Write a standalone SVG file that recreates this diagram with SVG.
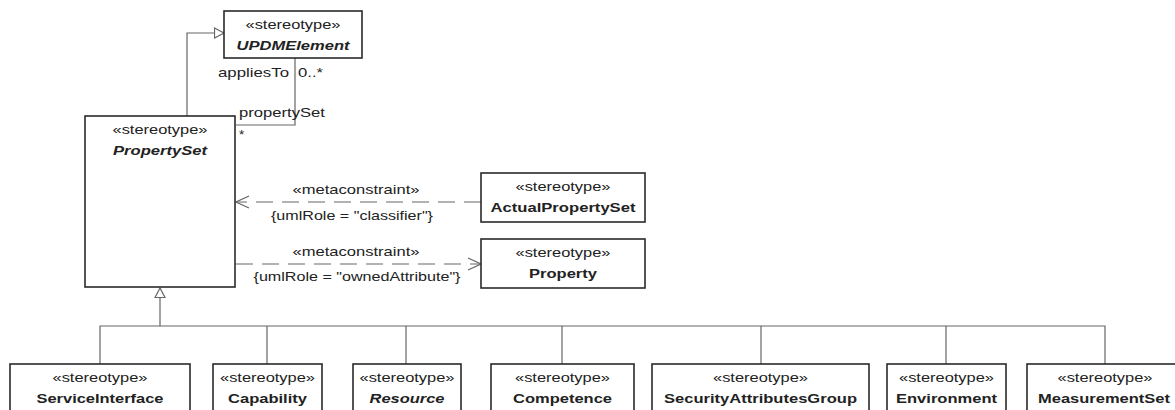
<svg xmlns="http://www.w3.org/2000/svg" width="1175" height="410" viewBox="0 0 1175 410">
<style>
.box{fill:#fff;stroke:#2a2a2a;stroke-width:1.6}
.ln{fill:none;stroke:#666;stroke-width:1.2}
.dash{stroke-dasharray:17 9}
text{font-family:"Liberation Sans",Arial,sans-serif;font-size:13.5px;fill:#222;text-anchor:middle}
.n{font-weight:bold}
.i{font-style:italic}
.s{font-size:13px}
.l{text-anchor:start}
.e{text-anchor:end}
</style>
<defs>
<marker id="open" markerWidth="15" markerHeight="14" refX="14" refY="7" orient="auto" markerUnits="userSpaceOnUse">
<path d="M1,1 L14,7 L1,13" fill="none" stroke="#666" stroke-width="1.2"/>
</marker>
<marker id="tri" markerWidth="12" markerHeight="12" refX="10.5" refY="6" orient="auto" markerUnits="userSpaceOnUse">
<path d="M1,1 L10.5,6 L1,11 Z" fill="#fff" stroke="#666" stroke-width="1.2"/>
</marker>
</defs>
<g id="connectors">
<polyline class="ln" points="187,116 187,33 224,33" marker-end="url(#tri)"/>
<polyline class="ln" points="295,58 295,125 236,125"/>
<text class="e" x="289" y="77" textLength="71" lengthAdjust="spacingAndGlyphs">appliesTo</text>
<text class="l" x="298" y="77" textLength="25" lengthAdjust="spacingAndGlyphs">0..*</text>
<text class="l" x="239" y="117" textLength="86" lengthAdjust="spacingAndGlyphs">propertySet</text>
<text class="l" x="239" y="139">*</text>
<line class="ln dash" x1="481" y1="202" x2="236" y2="202" marker-end="url(#open)"/>
<text x="356" y="194" textLength="127" lengthAdjust="spacingAndGlyphs">«metaconstraint»</text>
<text class="s" x="352" y="220" textLength="162" lengthAdjust="spacingAndGlyphs">{umlRole = "classifier"}</text>
<line class="ln dash" x1="236" y1="264" x2="481" y2="264" marker-end="url(#open)"/>
<text x="356" y="256" textLength="127" lengthAdjust="spacingAndGlyphs">«metaconstraint»</text>
<text class="s" x="357" y="281" textLength="207" lengthAdjust="spacingAndGlyphs">{umlRole = "ownedAttribute"}</text>
<path class="ln" d="M160,326 L160,288" marker-end="url(#tri)"/>
<polyline class="ln" points="100,364 100,326 1105,326 1105,364"/>
<line class="ln" x1="267" y1="326" x2="267" y2="364"/>
<line class="ln" x1="406" y1="326" x2="406" y2="364"/>
<line class="ln" x1="562" y1="326" x2="562" y2="364"/>
<line class="ln" x1="761" y1="326" x2="761" y2="364"/>
<line class="ln" x1="946" y1="326" x2="946" y2="364"/>
</g>
<g id="UPDMElement">
<rect class="box" x="224" y="11" width="138" height="47"/>
<text x="293" y="29" textLength="95" lengthAdjust="spacingAndGlyphs">«stereotype»</text>
<text class="n i" x="293" y="50" textLength="113" lengthAdjust="spacingAndGlyphs">UPDMElement</text>
</g>
<g id="PropertySet">
<rect class="box" x="85" y="116" width="150" height="171"/>
<text x="160" y="134" textLength="95" lengthAdjust="spacingAndGlyphs">«stereotype»</text>
<text class="n i" x="160" y="155" textLength="94" lengthAdjust="spacingAndGlyphs">PropertySet</text>
</g>
<g id="ActualPropertySet">
<rect class="box" x="481" y="173" width="164" height="49"/>
<text x="563" y="191" textLength="95" lengthAdjust="spacingAndGlyphs">«stereotype»</text>
<text class="n" x="563" y="212" textLength="145" lengthAdjust="spacingAndGlyphs">ActualPropertySet</text>
</g>
<g id="Property">
<rect class="box" x="481" y="239" width="164" height="49"/>
<text x="563" y="257" textLength="95" lengthAdjust="spacingAndGlyphs">«stereotype»</text>
<text class="n" x="563" y="278" textLength="68" lengthAdjust="spacingAndGlyphs">Property</text>
</g>
<g id="ServiceInterface">
<rect class="box" x="10" y="364" width="180" height="60"/>
<text x="100" y="382" textLength="95" lengthAdjust="spacingAndGlyphs">«stereotype»</text>
<text class="n" x="100" y="403" textLength="127" lengthAdjust="spacingAndGlyphs">ServiceInterface</text>
</g>
<g id="Capability">
<rect class="box" x="213" y="364" width="109" height="60"/>
<text x="267.5" y="382" textLength="95" lengthAdjust="spacingAndGlyphs">«stereotype»</text>
<text class="n" x="267.5" y="403" textLength="79" lengthAdjust="spacingAndGlyphs">Capability</text>
</g>
<g id="Resource">
<rect class="box" x="353" y="364" width="108" height="60"/>
<text x="407" y="382" textLength="95" lengthAdjust="spacingAndGlyphs">«stereotype»</text>
<text class="n i" x="407" y="403" textLength="75" lengthAdjust="spacingAndGlyphs">Resource</text>
</g>
<g id="Competence">
<rect class="box" x="491" y="364" width="143" height="60"/>
<text x="562.5" y="382" textLength="95" lengthAdjust="spacingAndGlyphs">«stereotype»</text>
<text class="n" x="562.5" y="403" textLength="99" lengthAdjust="spacingAndGlyphs">Competence</text>
</g>
<g id="SecurityAttributesGroup">
<rect class="box" x="652" y="364" width="217" height="60"/>
<text x="760.5" y="382" textLength="95" lengthAdjust="spacingAndGlyphs">«stereotype»</text>
<text class="n" x="760.5" y="403" textLength="193" lengthAdjust="spacingAndGlyphs">SecurityAttributesGroup</text>
</g>
<g id="Environment">
<rect class="box" x="887" y="364" width="119" height="60"/>
<text x="946.5" y="382" textLength="95" lengthAdjust="spacingAndGlyphs">«stereotype»</text>
<text class="n" x="946.5" y="403" textLength="101" lengthAdjust="spacingAndGlyphs">Environment</text>
</g>
<g id="MeasurementSet">
<rect class="box" x="1027" y="364" width="156" height="60"/>
<text x="1105" y="382" textLength="95" lengthAdjust="spacingAndGlyphs">«stereotype»</text>
<text class="n" x="1104" y="403" textLength="132" lengthAdjust="spacingAndGlyphs">MeasurementSet</text>
</g>
</svg>
